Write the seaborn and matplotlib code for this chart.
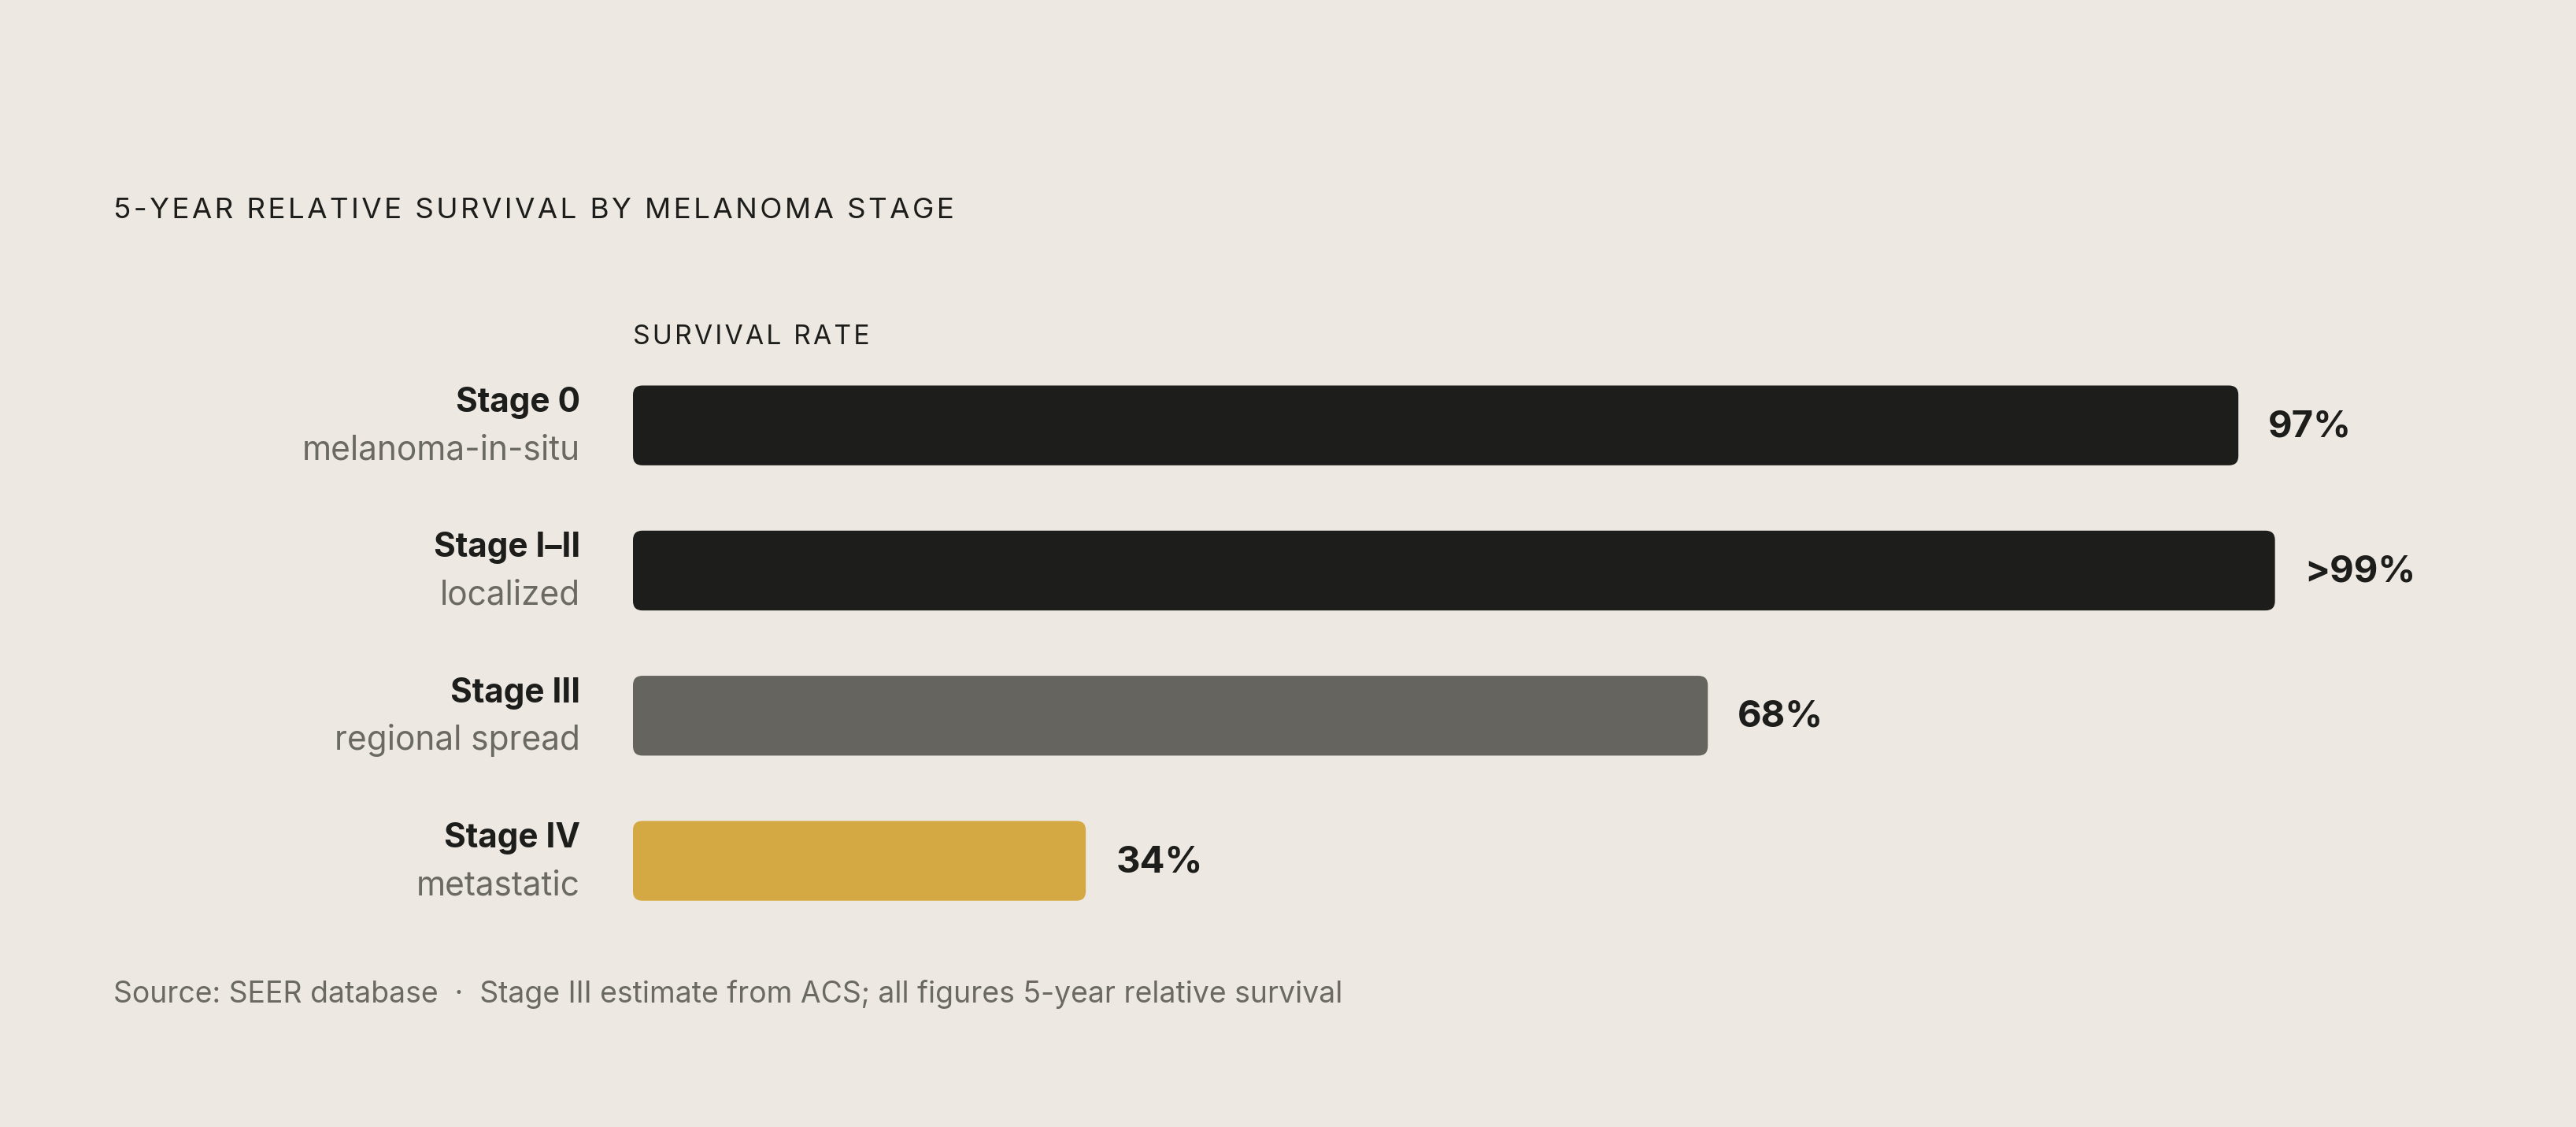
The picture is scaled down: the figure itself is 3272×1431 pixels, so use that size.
"""
5-year relative survival by melanoma stage, horizontal rounded bars
"""

import seaborn as sns
import matplotlib.pyplot as plt
from matplotlib.patches import FancyBboxPatch
import pandas as pd

stages = ["Stage 0", "Stage I\u2013II", "Stage III", "Stage IV"]
subtitles = ["melanoma-in-situ", "localized", "regional spread", "metastatic"]
survival = [97, 99, 68, 34]
value_labels = ["97%", ">99%", "68%", "34%"]

BG = "#EDE9E2"
INK = "#1D1D1B"
MUTED = "#6B6963"
bar_colors = ["#1D1D1B", "#1D1D1B", "#65645F", "#D4A944"]

sns.set_theme(style="white")
plt.rcParams["font.family"] = ["Inter", "DejaVu Sans"]

df = pd.DataFrame({"stage": stages, "survival": survival})

W, H = 3273, 1431
fig = plt.figure(figsize=(W / 100, H / 100), dpi=100, facecolor=BG)
ax = fig.add_axes([804 / W, 1 - 1203.6 / H, 2325 / W, 774 / H])
ax.set_facecolor(BG)

sns.barplot(data=df, x="survival", y="stage", hue="stage", palette=bar_colors,
            orient="h", width=0.55, saturation=1, legend=False, ax=ax)

x0 = 9.25
ax.set_xlim(x0, x0 + 100.05)
ax.set_ylim(3.6, -0.6)

# swap the flat bars for rounded ones
px_x = 2325 / 100.05
px_y = 774 / 4.2
r = 12 / px_x
for p in list(ax.patches):
    y, h, w = p.get_y(), p.get_height(), p.get_width()
    fc = p.get_facecolor()
    p.remove()
    ax.add_patch(FancyBboxPatch((x0, y), w - x0, h,
                                boxstyle=f"round,pad=0,rounding_size={r}",
                                mutation_aspect=(12 / px_y) / r,
                                facecolor=fc, edgecolor="none", clip_on=False))

ax.set_xticks([])
ax.set_yticks([])
ax.set_xlabel("")
ax.set_ylabel("")
sns.despine(ax=ax, left=True, bottom=True)

ytr = ax.get_yaxis_transform()
for i, (st, sub, v, lab) in enumerate(zip(stages, subtitles, survival, value_labels)):
    ax.annotate(st, xy=(0, i), xycoords=ytr, xytext=(-67, 17), textcoords="offset pixels",
                ha="right", va="baseline", fontsize=30.5, fontweight="bold", color=INK)
    ax.annotate(sub, xy=(0, i), xycoords=ytr, xytext=(-67, -43), textcoords="offset pixels",
                ha="right", va="baseline", fontsize=30.5, color=MUTED)
    ax.annotate(lab, xy=(v, i), xytext=(38, -14), textcoords="offset pixels",
                ha="left", va="baseline", fontsize=34, fontweight="bold", color=INK,
                annotation_clip=False)

title = "5-YEAR RELATIVE SURVIVAL BY MELANOMA STAGE"
fig.text(144 / W, 1 - 277 / H, "\u200a".join(title), fontsize=26.5, color=INK,
         ha="left", va="baseline")
fig.text(804 / W, 1 - 437 / H, "\u200a".join("SURVIVAL RATE"), fontsize=24.3, color=INK,
         ha="left", va="baseline")
fig.text(144 / W, 1 - 1273 / H,
         "Source: SEER database  \u00b7  Stage III estimate from ACS; all figures 5-year relative survival",
         fontsize=26.9, color=MUTED, ha="left", va="baseline")

fig.savefig("out.png", dpi=100, facecolor=BG)
